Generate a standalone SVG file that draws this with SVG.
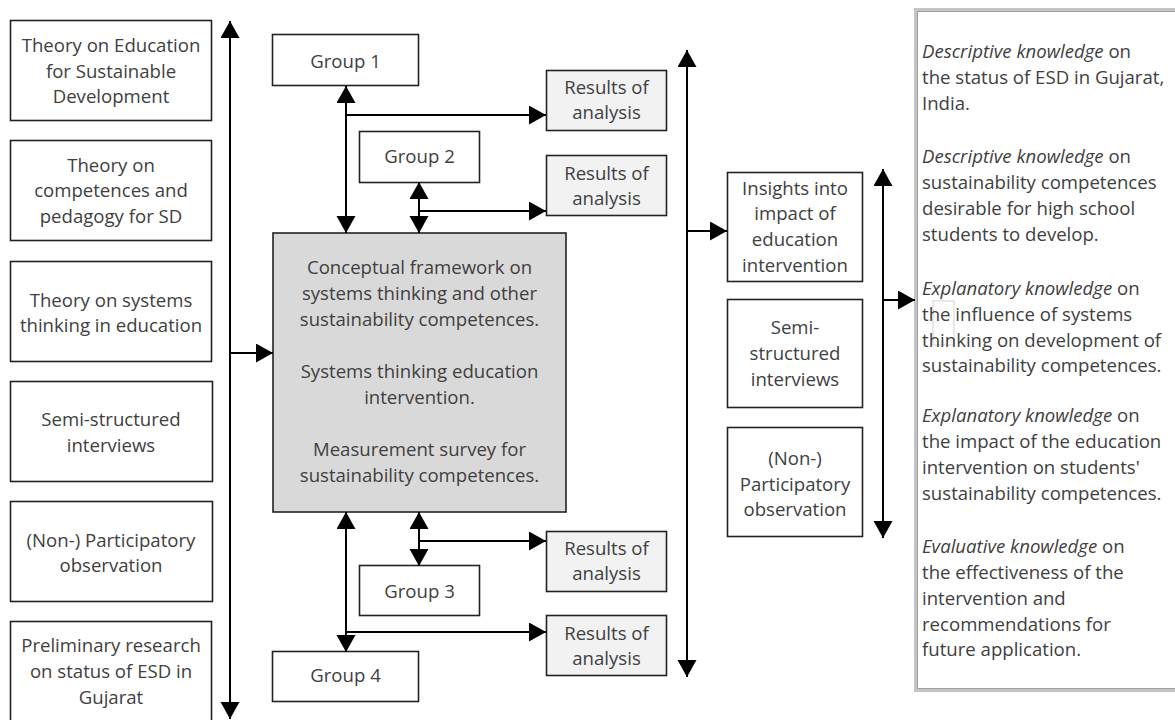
<svg xmlns="http://www.w3.org/2000/svg" width="1175" height="720" viewBox="0 0 1175 720">
  <defs>
    <marker id="arrow" markerUnits="userSpaceOnUse" markerWidth="18" markerHeight="20" refX="17" refY="9.5" orient="auto-start-reverse" viewBox="0 0 18 20">
      <path d="M0,0 L17,9.5 L0,19 Z" fill="#000"/>
    </marker>
    <style>
      .box { fill: #fff; stroke: #222; stroke-width: 1.6; }
      .main { fill: #d9d9d9; stroke: #222; stroke-width: 1.6; }
      .res { fill: #f2f2f2; stroke: #222; stroke-width: 1.6; }
      .lbl { font-family: "Open Sans", "DejaVu Sans", sans-serif; font-size: 18.6px; fill: #404040; text-anchor: middle; }
      .out { font-family: "Open Sans", "DejaVu Sans", sans-serif; font-size: 18.6px; fill: #404040; }
      .out tspan.k { font-style: italic; }
      .con line { stroke: #000; stroke-width: 2; fill: none; }
      .one { marker-end: url(#arrow); }
      .two { marker-start: url(#arrow); marker-end: url(#arrow); }
    </style>
  </defs>
  <rect width="1175" height="720" fill="#fff"/>

  <!-- input sources -->
  <g id="theory-esd">
    <rect class="box" x="10.5" y="20.5" width="201" height="100"/>
    <text class="lbl" x="111" y="51.5">Theory on Education</text>
    <text class="lbl" x="111" y="77.5">for Sustainable</text>
    <text class="lbl" x="111" y="103">Development</text>
  </g>
  <g id="theory-competences">
    <rect class="box" x="10.5" y="140.5" width="201" height="100"/>
    <text class="lbl" x="111" y="171.5">Theory on</text>
    <text class="lbl" x="111" y="197">competences and</text>
    <text class="lbl" x="111" y="222.5">pedagogy for SD</text>
  </g>
  <g id="theory-systems">
    <rect class="box" x="10.5" y="261.5" width="201" height="100"/>
    <text class="lbl" x="111" y="307">Theory on systems</text>
    <text class="lbl" x="111" y="332">thinking in education</text>
  </g>
  <g id="interviews-left">
    <rect class="box" x="10.5" y="381.5" width="202" height="100"/>
    <text class="lbl" x="111" y="426">Semi-structured</text>
    <text class="lbl" x="111" y="451.5">interviews</text>
  </g>
  <g id="observation-left">
    <rect class="box" x="10.5" y="501.5" width="202" height="100"/>
    <text class="lbl" x="111" y="546.5">(Non-) Participatory</text>
    <text class="lbl" x="111" y="572">observation</text>
  </g>
  <g id="preliminary">
    <rect class="box" x="10.5" y="621.5" width="201" height="110"/>
    <text class="lbl" x="111" y="652">Preliminary research</text>
    <text class="lbl" x="111" y="678">on status of ESD in</text>
    <text class="lbl" x="111" y="703.5">Gujarat</text>
  </g>

  <!-- core framework -->
  <g id="framework">
    <rect class="main" x="273" y="233" width="293" height="279"/>
    <text class="lbl" x="419.5" y="273.5">Conceptual framework on</text>
    <text class="lbl" x="419.5" y="299.5">systems thinking and other</text>
    <text class="lbl" x="419.5" y="325.5">sustainability competences.</text>
    <text class="lbl" x="419.5" y="377.5">Systems thinking education</text>
    <text class="lbl" x="419.5" y="403.5">intervention.</text>
    <text class="lbl" x="419.5" y="456">Measurement survey for</text>
    <text class="lbl" x="419.5" y="481.5">sustainability competences.</text>
  </g>

  <!-- student groups -->
  <g id="group1">
    <rect class="box" x="272.5" y="34.5" width="146" height="51"/>
    <text class="lbl" x="345.5" y="68">Group 1</text>
  </g>
  <g id="group2">
    <rect class="box" x="359.5" y="131.5" width="120" height="51"/>
    <text class="lbl" x="419.5" y="162.5">Group 2</text>
  </g>
  <g id="group3">
    <rect class="box" x="359.5" y="565.5" width="120" height="50"/>
    <text class="lbl" x="419.5" y="598">Group 3</text>
  </g>
  <g id="group4">
    <rect class="box" x="272.5" y="651.5" width="146" height="50"/>
    <text class="lbl" x="345.5" y="681.5">Group 4</text>
  </g>

  <!-- analysis results -->
  <g id="results1">
    <rect class="res" x="546.5" y="70.5" width="120" height="60"/>
    <text class="lbl" x="606.5" y="93.5">Results of</text>
    <text class="lbl" x="606.5" y="119">analysis</text>
  </g>
  <g id="results2">
    <rect class="res" x="546.5" y="155.5" width="120" height="60"/>
    <text class="lbl" x="606.5" y="180">Results of</text>
    <text class="lbl" x="606.5" y="205">analysis</text>
  </g>
  <g id="results3">
    <rect class="res" x="546.5" y="531.5" width="120" height="60"/>
    <text class="lbl" x="606.5" y="555">Results of</text>
    <text class="lbl" x="606.5" y="580">analysis</text>
  </g>
  <g id="results4">
    <rect class="res" x="546.5" y="615.5" width="120" height="60"/>
    <text class="lbl" x="606.5" y="640">Results of</text>
    <text class="lbl" x="606.5" y="665">analysis</text>
  </g>

  <!-- synthesis -->
  <g id="insights">
    <rect class="box" x="727.5" y="172.5" width="135" height="109"/>
    <text class="lbl" x="795" y="194.5">Insights into</text>
    <text class="lbl" x="795" y="219.5">impact of</text>
    <text class="lbl" x="795" y="245.5">education</text>
    <text class="lbl" x="795" y="271.5">intervention</text>
  </g>
  <g id="interviews-right">
    <rect class="box" x="727.5" y="299.5" width="135" height="108"/>
    <text class="lbl" x="795" y="333.5">Semi-</text>
    <text class="lbl" x="795" y="359.5">structured</text>
    <text class="lbl" x="795" y="386">interviews</text>
  </g>
  <g id="observation-right">
    <rect class="box" x="727.5" y="427.5" width="135" height="109"/>
    <text class="lbl" x="795" y="465">(Non-)</text>
    <text class="lbl" x="795" y="490.5">Participatory</text>
    <text class="lbl" x="795" y="516">observation</text>
  </g>

  <!-- knowledge outcomes -->
  <g id="outcomes">
    <rect x="915.5" y="9.5" width="270" height="681" fill="#fff" stroke="#c4c4c4" stroke-width="3"/>
    <rect x="917.5" y="11.5" width="270" height="677" fill="none" stroke="#a0a0a0" stroke-width="1"/>
    <rect x="933" y="301" width="21" height="44" fill="none" stroke="#c8c8c8" stroke-width="0.8"/>
    <text class="out" x="922" y="58"><tspan class="k">Descriptive knowledge</tspan> on</text>
    <text class="out" x="922" y="84">the status of ESD in Gujarat,</text>
    <text class="out" x="922" y="110">India.</text>
    <text class="out" x="922" y="163"><tspan class="k">Descriptive knowledge</tspan> on</text>
    <text class="out" x="922" y="189">sustainability competences</text>
    <text class="out" x="922" y="215">desirable for high school</text>
    <text class="out" x="922" y="241">students to develop.</text>
    <text class="out" x="922" y="295"><tspan class="k">Explanatory knowledge</tspan> on</text>
    <text class="out" x="922" y="321">the influence of systems</text>
    <text class="out" x="922" y="347">thinking on development of</text>
    <text class="out" x="922" y="372">sustainability competences.</text>
    <text class="out" x="922" y="422"><tspan class="k">Explanatory knowledge</tspan> on</text>
    <text class="out" x="922" y="448">the impact of the education</text>
    <text class="out" x="922" y="474">intervention on students'</text>
    <text class="out" x="922" y="500">sustainability competences.</text>
    <text class="out" x="922" y="553"><tspan class="k">Evaluative knowledge</tspan> on</text>
    <text class="out" x="922" y="579">the effectiveness of the</text>
    <text class="out" x="922" y="605">intervention and</text>
    <text class="out" x="922" y="631">recommendations for</text>
    <text class="out" x="922" y="656">future application.</text>
  </g>

  <!-- connectors -->
  <g id="connectors" class="con">
    <line class="two" x1="230" y1="21" x2="230" y2="719"/>
    <line class="one" x1="230" y1="353" x2="273" y2="353"/>

    <line class="two" x1="346" y1="86" x2="346" y2="233"/>
    <line class="one" x1="346" y1="115" x2="546" y2="115"/>
    <line class="two" x1="419" y1="182" x2="419" y2="233"/>
    <line class="one" x1="419" y1="211" x2="546" y2="211"/>

    <line class="two" x1="419" y1="512" x2="419" y2="566"/>
    <line class="one" x1="419" y1="541" x2="546" y2="541"/>
    <line class="two" x1="346" y1="512" x2="346" y2="652"/>
    <line class="one" x1="346" y1="632" x2="546" y2="632"/>

    <line class="two" x1="687" y1="50" x2="687" y2="677"/>
    <line class="one" x1="687" y1="231" x2="727" y2="231"/>

    <line class="two" x1="883" y1="169" x2="883" y2="538"/>
    <line class="one" x1="883" y1="300" x2="915" y2="300"/>
  </g>
</svg>
